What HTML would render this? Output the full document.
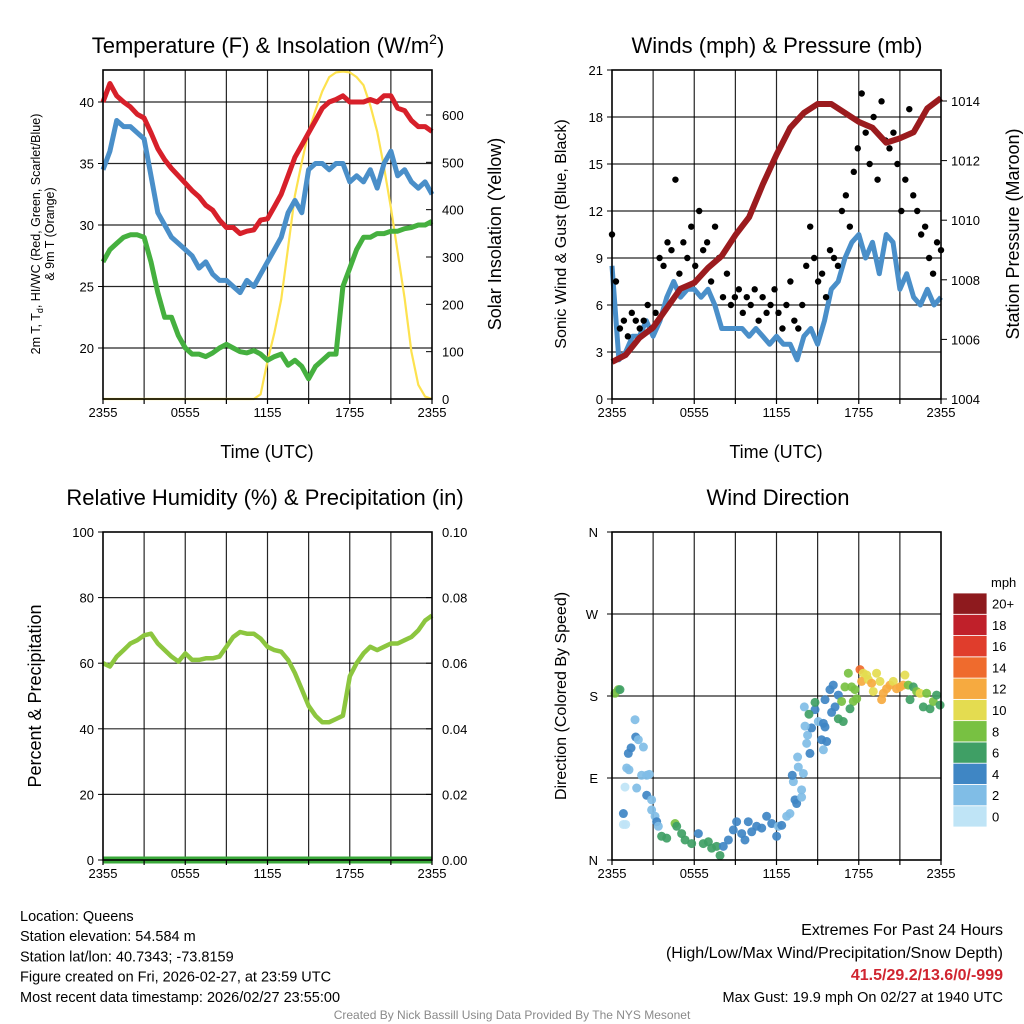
<!DOCTYPE html>
<html><head><meta charset="utf-8"><style>
body{margin:0;background:#fff;}
svg{display:block;font-family:"Liberation Sans",Arial,sans-serif;}
</style></head><body>
<svg id="c" width="1024" height="1024" viewBox="0 0 1024 1024" xmlns="http://www.w3.org/2000/svg"></svg>
<script>
// ---- data (half-hourly, t = 0..24 h from 2355 UTC) ----
const xTickLabels = ["2355","0555","1155","1755","2355"];
const tempT = [40,41.5,40.5,40,39.6,39,38.7,37.5,36.2,35.3,34.6,34,33.4,32.8,32.3,31.6,31.2,30.4,29.8,29.8,29.3,29.5,29.6,30.4,30.5,31.5,32.5,34,35.5,36.5,37.5,38.5,39.5,40,40.2,40.5,40,40,40,40.2,40,40.5,40.5,39.5,39.3,38.5,38,38,37.6];
const tempHIWC = [34.5,36,38.5,38,38,37.5,37,34,31,30,29,28.5,28,27.5,26.5,27,26,25.5,25.5,25,24.5,25.5,25,26,27,28,29,31,32,31,34.5,35,35,34.5,35,35,33.5,34,33.5,34.5,33,35,36,34,34.5,33.5,33,33.5,32.5];
const tempTd = [27,28,28.5,29,29.2,29.2,29,27,24.5,22.5,22.5,21,20,19.5,19.5,19.3,19.6,20,20.3,20,19.7,19.6,19.8,19.5,19,19.3,19.5,18.6,19,18.5,17.5,18.5,19,19.5,19.5,25,26.5,28,29,29,29.3,29.3,29.5,29.5,29.7,29.8,30,30,30.3];
const solar = [0,0,0,0,0,0,0,0,0,0,0,0,0,0,0,0,0,0,0,0,0,0,0,10,80,140,210,320,430,500,565,610,650,680,690,692,690,680,663,620,565,490,404,310,213,100,30,5,0];
const tempTicks = [20,25,30,35,40];
const solarTicks = [0,100,200,300,400,500,600];
const sonic = [8.5,2.5,3,4,4,5,4,5,6.5,7.5,6.5,7,7,6.5,7,6,4.5,4.5,4.5,4.5,4,4.5,4,3.5,4,3.5,3.5,2.5,4,4.5,3.5,5,7,7.5,9,10,10.5,9,10,8,10.5,10,7,8,6.5,6,7,6,6.5];
const pressureHourly = [1005.24,1005.48,1006.05,1006.4,1007.05,1007.7,1007.9,1008.4,1008.8,1009.5,1010.1,1011.2,1012.2,1013.1,1013.6,1013.9,1013.9,1013.6,1013.3,1013.1,1012.6,1012.75,1012.95,1013.75,1014.1];
const gusts = [10.5,7.5,4.5,5,4,5.5,5, 4.5,5,6,4.5,5.5,9,8.5, 10,9.5,14,8,10,9,11, 8.5,12,9.5,10,7.5,11,9, 6.5,8,6,6.5,7,5.5,6.5, 6,7,5,6.5,5.5,6,7, 5.5,4.5,6,7.5,5,4.5,6, 8.5,11,9,7.5,8,6.5,9.5, 9,8.5,12,13,11,14.5,16, 19.5,17,15,18,14,19,16.5, 16,17,15,12,14,18.5,13, 12,10.5,11,9,8,10,9.5];
const windTicks = [0,3,6,9,12,15,18,21];
const presTicks = [1004,1006,1008,1010,1012,1014];
const rh = [60,59,62,64,66,67,68.5,69,66,64,62,60.5,63,61,61,61.5,61.5,62,65,68,69.5,69,69,67.5,65,64,63.5,61,57,52,47,44,42,42,43,44,56,60,63,65,64,65,66,66,67,68,70,73,74.5];
const precip = [0,0,0,0,0,0,0,0,0,0,0,0,0,0,0,0,0,0,0,0,0,0,0,0,0,0,0,0,0,0,0,0,0,0,0,0,0,0,0,0,0,0,0,0,0,0,0,0,0];
const rhTicks = [0,20,40,60,80,100];
const precipTickLabels = ["0.00","0.02","0.04","0.06","0.08","0.10"];
const dirTime = [0.22,0.46,0.58,1.68,1.73,1.92,1.39,1.19,2.29,1.07,1.24,0.95,0.83,0.83,1.0,1.8,2.16,2.53,2.72,2.53,2.89,2.89,3.14,3.26,3.38,3.62,3.99,4.6,4.72,5.08,5.33,5.81,6.3,6.66,7.03,7.27,7.63,7.88,8.12,8.49,8.85,9.09,9.46,9.7,9.94,10.19,10.55,10.92,11.28,11.65,12.01,12.13,12.38,12.74,12.98,13.35,13.47,13.83,13.83,13.23,13.15,13.96,13.59,13.54,14.44,14.2,14.27,14.56,14.08,14.03,14.81,14.37,14.81,15.05,15.42,15.54,15.29,15.66,15.42,16.02,16.51,16.87,15.54,15.9,16.14,16.51,16.75,16.27,16.99,17.24,17.48,17.72,17.6,17.36,17.85,18.09,18.33,18.21,18.58,18.7,18.94,19.06,19.3,19.55,19.67,19.79,20.03,20.28,20.52,20.76,21.01,21.25,21.37,21.61,21.74,21.98,22.22,22.47,22.71,22.95,23.2,23.44,23.68,23.93];
const dirDeg = [183,187,187,154,135,132,123,117,124,101,99,80,51,39,39,79,93,93,94,71,66,55,48,42,37,26,24,40,37,29,22,18,29,18,20,13,15,5,15,22,33,42,29,22,42,31,37,35,48,40,26,37,38,48,51,66,62,69,77,86,93,95,102,113,117,128,137,145,147,168,165,160,173,152,150,146,132,130,121,162,155,152,176,187,192,181,174,168,190,205,190,187,174,166,177,209,205,196,203,198,194,185,205,196,176,183,188,192,196,188,190,192,203,192,176,190,185,183,168,183,166,174,181,170];
const dirSpeed = [7,8,6,2,4,2,4,3,2,1,2,0.5,3,0.5,0.5,2,2,2,2,4,2,2,2,4,2,6,6,8,6,6,6,6,4,6,6,6,6,6,4,4,4,4,4,4,4,4,4,4,4,4,4,2,4,2,2,4,4,1,2,2,4,2,2,2,4,2,2,4,2,2,4,6,6,2,4,4,4,4,2,4,6,6,4,4,4,4,8,4,8,8,8,8,8,6,8,14,10,12,10,10,12,10,10,10,12,12,12,12,10,12,12,12,10,8,6,6,8,10,6,8,6,8,6,6];
const dirTickLabels = ["N","E","S","W","N"];
const cbLabels = ["0","2","4","6","8","10","12","14","16","18","20+"];
const cbColors = ["#bfe4f6","#80bde6","#3f86c4","#3f9f65","#78c142","#e4dc50","#f6aa40","#ef6b2d","#e03d2c","#c0202a","#8e1a1e"];

// ---- helpers ----
const svg = document.getElementById('c');
const NS = 'http://www.w3.org/2000/svg';
function mk(tag, attrs, parent){const e=document.createElementNS(NS,tag);for(const k in attrs)e.setAttribute(k,attrs[k]);(parent||svg).appendChild(e);return e;}
function txt(s,x,y,size,anchor,extra){const e=mk('text',Object.assign({x:x,y:y,'font-size':size,'text-anchor':anchor||'middle',fill:'#000'},extra||{}));e.textContent=s;return e;}
function linScale(d0,d1,r0,r1){return v=>r0+(v-d0)/(d1-d0)*(r1-r0);}
function halfT(i){return i*0.5;}
function pathFrom(xs,ys){let d='';for(let i=0;i<xs.length;i++)d+=(i?'L':'M')+xs[i].toFixed(1)+','+ys[i].toFixed(1);return d;}

function frame(x0,y0,x1,y1,hLinesY,name){
  const g=mk('g',{});
  
  
  for(let k=1;k<8;k++){const x=x0+(x1-x0)*k/8;mk('line',{x1:x,y1:y0,x2:x,y2:y1,stroke:'#000','stroke-width':1.2,opacity:0.85},g);}
  hLinesY.forEach(y=>mk('line',{x1:x0,y1:y,x2:x1,y2:y,stroke:'#000','stroke-width':1.2,opacity:0.85},g));
  return g;
}
function border(x0,y0,x1,y1,name){
  const r=mk('rect',{x:x0,y:y0,width:x1-x0,height:y1-y0,fill:'none',stroke:'#000','stroke-width':1.6});
  
  
}
function xAxis(x0,x1,y1,name){
  const g=mk('g',{});
  
  
  const sx=linScale(0,24,x0,x1);
  for(let k=0;k<=8;k++){const x=x0+(x1-x0)*k/8;mk('line',{x1:x,y1:y1,x2:x,y2:y1+5,stroke:'#000','stroke-width':1.2},g);}
  xTickLabels.forEach((l,i)=>{const t=txt(l,sx(i*6),y1+18,13);g.appendChild(t);});
}

// ===== Panel 1 =====
(function(){
  const x0=103,x1=432,y0=70,y1=399;
  const sx=linScale(0,24,x0,x1), sy=linScale(40,20,102,348), ss=linScale(0,600,399,115);
  frame(x0,y0,x1,y1,tempTicks.map(sy),'temperature');
  const yl=mk('path',{d:pathFrom(solar.map((v,i)=>sx(halfT(i))),solar.map(ss)),fill:'none',stroke:'#fde24f','stroke-width':2.2});
  
  
  const gr=mk('path',{d:pathFrom(tempTd.map((v,i)=>sx(halfT(i))),tempTd.map(sy)),fill:'none',stroke:'#45b03f','stroke-width':5,'stroke-linejoin':'round'});
  
  
  const bl=mk('path',{d:pathFrom(tempHIWC.map((v,i)=>sx(halfT(i))),tempHIWC.map(sy)),fill:'none',stroke:'#4a8fc9','stroke-width':5,'stroke-linejoin':'round'});
  
  
  const rd=mk('path',{d:pathFrom(tempT.map((v,i)=>sx(halfT(i))),tempT.map(sy)),fill:'none',stroke:'#d7202a','stroke-width':5,'stroke-linejoin':'round'});
  
  
  border(x0,y0,x1,y1,'temperature');
  tempTicks.forEach(v=>{mk('line',{x1:x0-5,y1:sy(v),x2:x0,y2:sy(v),stroke:'#000'});txt(String(v),x0-9,sy(v)+5,13,'end');});
  solarTicks.forEach(v=>{mk('line',{x1:x1,y1:ss(v),x2:x1-6,y2:ss(v),stroke:'#000'});txt(String(v),x1+10,ss(v)+5,13,'start');});
  xAxis(x0,x1,y1,'temperature');
  const t1=txt('',268,53,22);t1.innerHTML='Temperature (F) &amp; Insolation (W/m<tspan font-size="14" dy="-9">2</tspan><tspan dy="9">)</tspan>';
  
  
  const xt=txt('Time (UTC)',267,458,18);
  
  
  const yt=txt('',0,0,12.5,'middle',{transform:'translate(40,234) rotate(-90)'});
  yt.innerHTML='2m T, T<tspan font-size="9" dy="3">d</tspan><tspan dy="-3">, HI/WC (Red, Green, Scarlet/Blue)</tspan>';
  
  
  const yt2=txt('& 9m T (Orange)',0,0,12.5,'middle',{transform:'translate(54,234) rotate(-90)'});
  
  
  const rt=txt('Solar Insolation (Yellow)',0,0,18,'middle',{transform:'translate(501,234) rotate(-90)'});
  
  
})();

// ===== Panel 2 =====
(function(){
  const x0=612,x1=941,y0=70,y1=399;
  const sx=linScale(0,24,x0,x1), sy=linScale(0,21,399,70), sp=linScale(1004,1014,399,101);
  frame(x0,y0,x1,y1,windTicks.slice(1,7).map(sy),'winds');
  const bl=mk('path',{d:pathFrom(sonic.map((v,i)=>sx(halfT(i))),sonic.map(sy)),fill:'none',stroke:'#4a8fc9','stroke-width':5,'stroke-linejoin':'round'});
  
  
  const gg=mk('g',{});
  
  
  gusts.forEach((v,i)=>{const c=mk('circle',{cx:sx(i*24/(gusts.length-1)),cy:sy(v),r:3.2,fill:'#000'},gg);
    
    });
  const pr=mk('path',{d:pathFrom(pressureHourly.map((v,i)=>sx(i)),pressureHourly.map(sp)),fill:'none',stroke:'#9b1b1e','stroke-width':6,'stroke-linejoin':'round'});
  
  
  border(x0,y0,x1,y1,'winds');
  windTicks.forEach(v=>{mk('line',{x1:x0-5,y1:sy(v),x2:x0,y2:sy(v),stroke:'#000'});txt(String(v),x0-9,sy(v)+5,13,'end');});
  presTicks.forEach(v=>{mk('line',{x1:x1,y1:sp(v),x2:x1+6,y2:sp(v),stroke:'#000'});txt(String(v),x1+10,sp(v)+5,13,'start');});
  xAxis(x0,x1,y1,'winds');
  const t=txt('Winds (mph) & Pressure (mb)',777,53,22);
  
  
  const xt=txt('Time (UTC)',776,458,18);
  
  
  const yt=txt('Sonic Wind & Gust (Blue, Black)',0,0,16,'middle',{transform:'translate(566,234) rotate(-90)'});
  
  
  const rt=txt('Station Pressure (Maroon)',0,0,18,'middle',{transform:'translate(1019,234) rotate(-90)'});
  
  
})();

// ===== Panel 3 =====
(function(){
  const x0=103,x1=432,y0=532,y1=860;
  const sx=linScale(0,24,x0,x1), sy=linScale(0,100,860,532), spp=linScale(0,0.10,860,532);
  frame(x0,y0,x1,y1,rhTicks.slice(1,5).map(sy),'humidity');
  const pl=mk('path',{d:pathFrom(precip.map((v,i)=>sx(halfT(i))),precip.map(spp)),fill:'none',stroke:'#3aa83a','stroke-width':7});
  
  
  const rl=mk('path',{d:pathFrom(rh.map((v,i)=>sx(halfT(i))),rh.map(sy)),fill:'none',stroke:'#8cc63f','stroke-width':4.5,'stroke-linejoin':'round'});
  
  
  border(x0,y0,x1,y1,'humidity');
  rhTicks.forEach(v=>{mk('line',{x1:x0-5,y1:sy(v),x2:x0,y2:sy(v),stroke:'#000'});txt(String(v),x0-9,sy(v)+5,13,'end');});
  precipTickLabels.forEach((l,i)=>{const y=spp(i*0.02);mk('line',{x1:x1,y1:y,x2:x1-6,y2:y,stroke:'#000'});txt(l,x1+10,y+5,13,'start');});
  xAxis(x0,x1,y1,'humidity');
  const t=txt('Relative Humidity (%) & Precipitation (in)',265,505,22);
  
  
  const yt=txt('Percent & Precipitation',0,0,18,'middle',{transform:'translate(41,696) rotate(-90)'});
  
  
})();

// ===== Panel 4 =====
(function(){
  const x0=612,x1=941,y0=532,y1=860;
  const sx=linScale(0,24,x0,x1), sy=linScale(0,360,860,532);
  frame(x0,y0,x1,y1,[90,180,270].map(sy),'direction');
  function col(s){let k=Math.round(s/2);if(k>10)k=10;if(k<0)k=0;return cbColors[k];}
  const g=mk('g',{});
  
  
  dirDeg.forEach((d,i)=>{const c=mk('circle',{cx:sx(dirTime[i]),cy:sy(d),r:4.5,fill:col(dirSpeed[i]),opacity:0.92},g);
    
    });
  border(x0,y0,x1,y1,'direction');
  dirTickLabels.forEach((l,i)=>{const y=sy(i*90);mk('line',{x1:x0-5,y1:y,x2:x0,y2:y,stroke:'#000'});txt(l,x0-14,y+5,13,'end');});
  xAxis(x0,x1,y1,'direction');
  const t=txt('Wind Direction',778,505,22);
  
  
  const yt=txt('Direction (Colored By Speed)',0,0,16,'middle',{transform:'translate(566,696) rotate(-90)'});
  
  
  const cb=mk('g',{});
  
  
  const bh=(827-593)/11;
  cbColors.forEach((c,i)=>{const y=827-(i+1)*bh;mk('rect',{x:953,y:y,width:34,height:bh,fill:c,stroke:'#fff','stroke-width':0.8},cb);
    const l=txt(cbLabels[i],992,y+bh/2+5,13,'start');cb.appendChild(l);});
  const m=txt('mph',991,587,13,'start');
  
  
})();

// ===== Footer text =====
const leftLines=["Location: Queens","Station elevation: 54.584 m","Station lat/lon: 40.7343; -73.8159","Figure created on Fri, 2026-02-27, at 23:59 UTC","Most recent data timestamp: 2026/02/27 23:55:00"];
leftLines.forEach((s,i)=>{const t=txt(s,20,921+i*20.2,14.5,'start');
  
  });
let e;
e=txt('Extremes For Past 24 Hours',1003,935,16,'end');
e=txt('(High/Low/Max Wind/Precipitation/Snow Depth)',1003,958,16,'end');
e=txt('41.5/29.2/13.6/0/-999',1003,980,16,'end',{fill:'#d02530','font-weight':'bold'});
e=txt('Max Gust: 19.9 mph On 02/27 at 1940 UTC',1003,1002,14.5,'end');
e=txt('Created By Nick Bassill Using Data Provided By The NYS Mesonet',512,1019,12,'middle',{fill:'#8a8a8a'});
</script>
</body></html>
